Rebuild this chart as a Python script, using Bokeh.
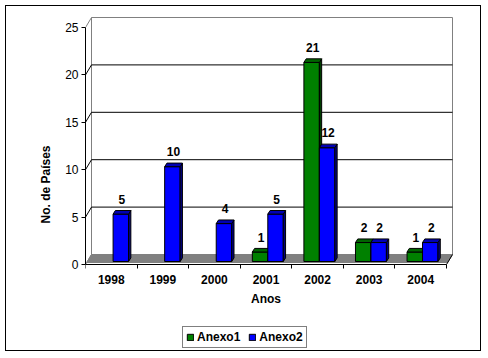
from bokeh.plotting import figure
from bokeh.models import Range1d, FixedTicker, Legend, LegendItem
from bokeh.embed import file_html
from bokeh.resources import INLINE
from bokeh.core.properties import value

# ---- data ----
years = ["1998", "1999", "2000", "2001", "2002", "2003", "2004"]
anexo1 = [0, 0, 0, 1, 21, 2, 1]
anexo2 = [5, 10, 4, 5, 12, 2, 2]
series_names = ["Anexo1", "Anexo2"]
y_ticks = [0, 5, 10, 15, 20, 25]

# ---- styling / geometry ----
FONT = "Liberation Sans"
W, H = 476, 346
FL, FR, FT, FB = 79, 29, 10, 0
n = len(years)
YMAX = 25
frame_w = W - FL - FR
cat_px = (frame_w - 7) / n
ypx = 237 / YMAX
BELOW_PX = 88           # space between x axis and bottom of frame
DX = 6 / cat_px
DY = 10 / ypx

front_cols = ["#008000", "#0000FF"]
top_cols = ["#006400", "#0000B4"]
side_cols = ["#003C00", "#000080"]

p = figure(width=W, height=H,
           x_range=Range1d(0, n + DX + 1 / cat_px),
           y_range=Range1d(-BELOW_PX / ypx, YMAX + DY + 1 / ypx),
           output_backend="svg", toolbar_location=None,
           min_border_left=FL, min_border_right=FR,
           min_border_top=FT, min_border_bottom=FB,
           background_fill_color="white", border_fill_color="white",
           outline_line_color=None)
p.styles = {"margin": "5px", "border": "1px solid black"}
p.xgrid.visible = False
p.ygrid.visible = False

# back wall
p.quad(left=DX, right=n + DX, bottom=DY, top=YMAX + DY,
       fill_color="white", line_color="#808080", line_width=1)
# gridlines on back wall
grid_vals = [t for t in y_ticks if 0 < t < YMAX]
p.segment(x0=[DX] * len(grid_vals), y0=[t + DY for t in grid_vals],
          x1=[n + DX] * len(grid_vals), y1=[t + DY for t in grid_vals],
          line_color="black", line_width=1)
# side wall diagonals
p.segment(x0=[0] * len(y_ticks), y0=y_ticks,
          x1=[DX] * len(y_ticks), y1=[t + DY for t in y_ticks],
          line_color=["#808080" if t in (0, YMAX) else "black" for t in y_ticks],
          line_width=1)
# floor
fx, fy = 1.2 / cat_px, 2 / ypx
p.patch(x=[fx, n + fx, n + DX, DX], y=[fy, fy, DY, DY],
        fill_color="#808080", line_color="#808080", line_width=1)
p.segment(x0=[n], y0=[0], x1=[n + DX], y1=[DY], line_color="black", line_width=1)

# bars
sx, sy = 0.3 * DX, 0.3 * DY
bdx, bdy = 2.3 / cat_px, 3.6 / ypx
bw = 0.3
legend_renderers = []
lab_x, lab_y, lab_t = [], [], []
for k, vals in enumerate([anexo1, anexo2]):
    L, R, T = [], [], []
    for i, v in enumerate(vals):
        if v <= 0:
            continue
        l = i + 0.2 + bw * k + sx
        L.append(l)
        R.append(l + bw)
        T.append(v + sy)
        lab_x.append(l + bw / 2 + 1 / cat_px)
        lab_y.append(v + sy + 15 / ypx)
        lab_t.append(str(v))
    r = p.quad(left=L, right=R, bottom=[sy] * len(L), top=T,
               fill_color=front_cols[k], line_color="black", line_width=1)
    legend_renderers.append(r)
    p.patches(xs=[[rr, rr + bdx, rr + bdx, rr] for rr in R],
              ys=[[sy, sy + bdy, t + bdy, t] for t in T],
              fill_color=side_cols[k], line_color="black", line_width=1)
    p.patches(xs=[[ll, rr, rr + bdx, ll + bdx] for ll, rr in zip(L, R)],
              ys=[[t, t, t + bdy, t + bdy] for t in T],
              fill_color=top_cols[k], line_color="black", line_width=1)

p.text(x=lab_x, y=lab_y, text=lab_t, text_align="center", text_baseline="middle",
       text_font=value(FONT), text_font_size="12px", text_font_style="bold",
       text_color="black")

# y axis
ya = p.yaxis[0]
ya.ticker = FixedTicker(ticks=y_ticks)
ya.bounds = (0, YMAX)
ya.axis_line_color = "black"
ya.major_tick_out = 4
ya.major_tick_in = 0
ya.minor_tick_line_color = None
ya.major_label_standoff = 3
ya.major_label_text_font = FONT
ya.major_label_text_font_size = "12px"
ya.major_label_text_color = "black"
ya.axis_label = "No. de Países"
ya.axis_label_text_font = FONT
ya.axis_label_text_font_size = "12px"
ya.axis_label_text_font_style = "bold"
ya.axis_label_text_color = "black"
ya.axis_label_standoff = 9

# x axis (fixed at y = 0 so the legend can sit inside the frame below it)
xa = p.xaxis[0]
xa.fixed_location = 0
centers = [i + 0.5 for i in range(n)]
xa.ticker = FixedTicker(ticks=centers, minor_ticks=list(range(n + 1)))
xa.major_label_overrides = {c: y for c, y in zip(centers, years)}
xa.bounds = (0, n)
xa.axis_line_color = "black"
xa.major_tick_line_color = None
xa.minor_tick_line_color = "black"
xa.minor_tick_out = 4
xa.minor_tick_in = 0
xa.major_label_standoff = 4
xa.major_label_text_font = FONT
xa.major_label_text_font_size = "12px"
xa.major_label_text_font_style = "bold"
xa.major_label_text_color = "black"
xa.axis_label = "Anos"
xa.axis_label_text_font = FONT
xa.axis_label_text_font_size = "12px"
xa.axis_label_text_font_style = "bold"
xa.axis_label_text_color = "black"
xa.axis_label_standoff = 5

legend = Legend(items=[LegendItem(label=series_names[k], renderers=[legend_renderers[k]])
                       for k in range(2)],
                location=(97, 4), orientation="horizontal",
                glyph_width=8, glyph_height=8, label_height=12,
                label_standoff=3, spacing=8, padding=3, margin=0,
                label_text_font=FONT, label_text_font_size="12px",
                label_text_font_style="bold", label_text_color="black",
                border_line_color="black", border_line_width=1,
                background_fill_color="white", background_fill_alpha=1)
p.add_layout(legend, "center")

open("out.html", "w").write(file_html(p, INLINE))
